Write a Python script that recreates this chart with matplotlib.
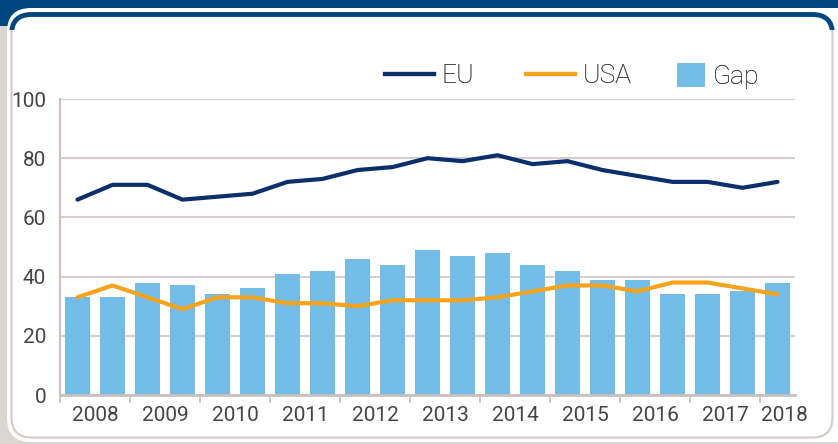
import matplotlib
matplotlib.use('Agg')
import matplotlib.pyplot as plt
from matplotlib.patches import FancyBboxPatch, Rectangle, Patch
from matplotlib.lines import Line2D
import numpy as np

# half-year values 2008-2018
eu = [66, 71, 71, 66, 67, 68, 72, 73, 76, 77, 80, 79, 81, 78, 79, 76, 74, 72, 72, 70, 72]
usa = [33, 37, 33, 29, 33, 33, 31, 31, 30, 32, 32, 32, 33, 35, 37, 37, 35, 38, 38, 36, 34]
gap = [33, 33, 38, 37, 34, 36, 41, 42, 46, 44, 49, 47, 48, 44, 42, 39, 39, 34, 34, 35, 38]
years = ['2008', '2009', '2010', '2011', '2012', '2013', '2014', '2015', '2016', '2017', '2018']

navy = '#0b2f6b'
orange = '#f5a31c'
light = '#74bce8'
grid_c = '#d6cfcd'
txt_c = '#454545'
band = '#01477f'

plt.rcParams['font.family'] = ['Roboto', 'DejaVu Sans']

fig = plt.figure(figsize=(8.38, 4.44), dpi=100)
fig.patch.set_facecolor('#dcd6d3')

# background decoration in pixel coords
bg = fig.add_axes([0, 0, 1, 1], zorder=-5)
bg.set_xlim(0, 838)
bg.set_ylim(444, 0)
bg.axis('off')
bg.add_patch(Rectangle((0, 0), 838, 26, color=band, lw=0))
bg.add_patch(FancyBboxPatch((7, 8), 860, 434, boxstyle='round,pad=0,rounding_size=24',
                            fc='white', ec='none'))
inner = FancyBboxPatch((11.5, 13.5), 821, 424, boxstyle='round,pad=0,rounding_size=20',
                       fc='white', ec='#d3cbc8', lw=1.5)
bg.add_patch(inner)
top = FancyBboxPatch((11.5, 14.5), 821, 424, boxstyle='round,pad=0,rounding_size=20',
                     fc='none', ec=band, lw=3.5)
bg.add_patch(top)
clip = Rectangle((0, 0), 838, 30, transform=bg.transData, visible=False)
bg.add_patch(clip)
top.set_clip_path(clip)

ax = fig.add_axes([60 / 838, 49 / 444, 735 / 838, 296 / 444])
x = np.arange(len(gap))
ax.bar(x, gap, width=0.74, color=light, zorder=2)
ax.plot(x, eu, color=navy, lw=3, solid_capstyle='round', zorder=3)
ax.plot(x, usa, color=orange, lw=3, solid_capstyle='round', zorder=3)

ax.set_xlim(-0.5, len(gap) - 0.5)
ax.set_ylim(0, 100)
ax.set_yticks([0, 20, 40, 60, 80, 100])
ax.yaxis.grid(True, color=grid_c, lw=1.5, zorder=0)
ax.set_axisbelow(True)
ax.tick_params(axis='y', length=0, pad=10, labelsize=15, labelcolor=txt_c)

# boundaries between years as major ticks, year names as minor labels
ax.set_xticks(np.arange(-0.5, len(gap) - 1, 2))
ax.set_xticklabels([])
label_pos = list(np.arange(0.5, len(gap) - 1, 2)) + [20.2]
ax.set_xticks(label_pos, minor=True)
ax.set_xticklabels(years, minor=True)
ax.tick_params(axis='x', which='major', length=6, width=1.2, color='#c8c0bd', direction='out')
ax.tick_params(axis='x', which='minor', length=0, pad=8, labelsize=15, labelcolor=txt_c)

for s in ['top', 'right']:
    ax.spines[s].set_visible(False)
ax.spines['left'].set_color('#c8c0bd')
ax.spines['left'].set_linewidth(1.5)
ax.spines['bottom'].set_color('#c8c0bd')
ax.spines['bottom'].set_linewidth(2)
ax.set_facecolor('none')

# legend entries placed one by one (uneven spacing as in the original)
entries = [(Line2D([], [], color=navy, lw=3), 'EU', 385, 1.85, 0.7),
           (Line2D([], [], color=orange, lw=3), 'USA', 526, 1.85, 0.7),
           (Patch(color=light, lw=0), 'Gap', 677, 1.06, 1.06)]
for h, lab, px, hl, hh in entries:
    leg = fig.legend([h], [lab], loc='center left', bbox_to_anchor=(px / 838, 368 / 444),
                     frameon=False, fontsize=19, handlelength=hl, handleheight=hh,
                     handletextpad=0.3, borderpad=0, borderaxespad=0, labelcolor=txt_c)
    for t in leg.get_texts():
        t.set_fontweight('light')
    fig.add_artist(leg)

fig.savefig('out.png', dpi=100, facecolor=fig.get_facecolor())
